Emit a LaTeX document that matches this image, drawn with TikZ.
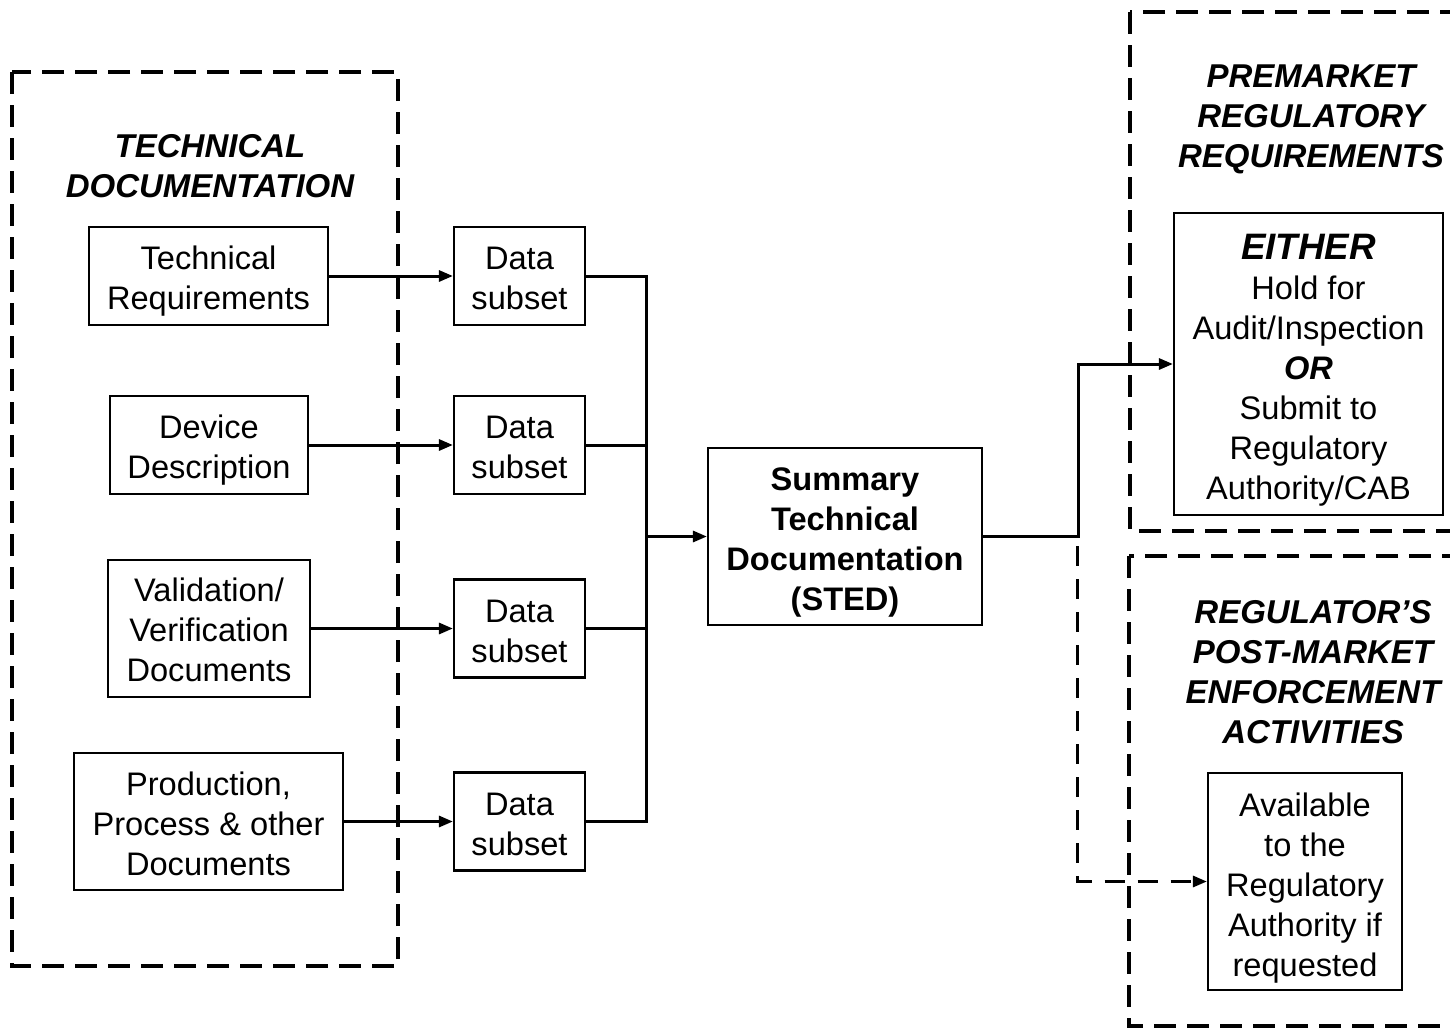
\documentclass[tikz,border=0pt]{standalone}
\usepackage{fontspec}
\setmainfont{Liberation Sans}
\usetikzlibrary{arrows.meta}
\newcommand\topst[1]{\rule{0pt}{#1pt}}
\tikzset{
  box/.style={draw, line width=1.1pt, align=center, inner sep=0pt,
    font=\fontsize{16.3}{20}\selectfont},
  ttl/.style={align=center, inner sep=0pt,
    font=\fontsize{16.5}{20}\selectfont\bfseries\itshape},
  group/.style={draw, line width=2pt, dash pattern=on 11pt off 5.5pt},
  conn/.style={line width=1.5pt},
  arr/.style={conn, -{Triangle[length=7pt,width=5.5pt]}},
  darr/.style={line width=1.5pt, dash pattern=on 10pt off 6.5pt, -{Triangle[length=7pt,width=5.5pt]}},
}
\begin{document}
\begin{tikzpicture}[x=0.5pt,y=-0.5pt]
\useasboundingbox (0,0) rectangle (1450,1028);
\clip (0,0) rectangle (1450,1028);
\fill[white] (0,0) rectangle (1450,1028);

% group frames
\draw[group] (12,72) rectangle (398,966);
\draw[group] (1130,12) rectangle (1470,531);
\draw[group] (1129,556) rectangle (1470,1026);

% titles
\node[ttl] (t1) at (210,166) {TECHNICAL\\DOCUMENTATION};
\node[ttl] (t2) at (1311,117) {\topst{13.7}PREMARKET\\REGULATORY\\REQUIREMENTS};
\node[ttl] (t3) at (1313,672) {REGULATOR’S\\POST-MARKET\\ENFORCEMENT\\ACTIVITIES};

% source documents
\node[box, minimum width=119.5pt, minimum height=49pt] (tr) at (208.5,276) {\topst{17}Technical\\Requirements};
\node[box, minimum width=99pt, minimum height=49pt] (dd) at (209,445) {\topst{16.7}Device\\Description};
\node[box, minimum width=101pt, minimum height=68.5pt] (vv) at (209,628.5) {\topst{13.4}Validation/\\Verification\\Documents};
\node[box, minimum width=134.5pt, minimum height=68.5pt] (pp) at (208.5,821.5) {\topst{13.9}Production,\\Process \& other\\Documents};

% data subsets
\node[box, minimum width=65.5pt, minimum height=49pt] (ds1) at (519.5,276) {\topst{13.7}Data\\subset};
\node[box, minimum width=65.5pt, minimum height=49pt] (ds2) at (519.5,445) {\topst{13.7}Data\\subset};
\node[box, minimum width=65.5pt, minimum height=49pt] (ds3) at (519.5,628.5) {\topst{13.7}Data\\subset};
\node[box, minimum width=65.5pt, minimum height=49pt] (ds4) at (519.5,821.5) {\topst{13.7}Data\\subset};

% STED
\node[box, font=\fontsize{16.3}{20}\selectfont\bfseries, minimum width=137pt, minimum height=88.5pt] (sted) at (845,536.5) {\topst{17}Summary\\Technical\\Documentation\\(STED)};

% right boxes
\node[box, minimum width=134.5pt, minimum height=151pt] (either) at (1308.5,364)
  {{\fontsize{18.4}{22}\selectfont\bfseries\itshape \topst{19.2}EITHER}\\Hold for\\Audit/Inspection\\{\bfseries\itshape OR}\\Submit to\\Regulatory\\Authority/CAB};
\node[box, minimum width=97pt, minimum height=108.5pt] (avail) at (1305,881.5)
  {\topst{17.9}Available\\to the\\Regulatory\\Authority if\\requested};

% connectors
\draw[arr] (tr.east) -- (ds1.west);
\draw[arr] (dd.east) -- (ds2.west);
\draw[arr] (vv.east) -- (ds3.west);
\draw[arr] (pp.east) -- (ds4.west);

\coordinate (bt) at (646,276);
\coordinate (bb) at (646,821.5);
\draw[conn] (ds1.east) -- (bt) -- (bb) -- (ds4.east);
\draw[conn] (ds2.east) -- (ds2.east -| bt);
\draw[conn] (ds3.east) -- (ds3.east -| bt);
\draw[arr] (bt |- sted.west) -- (sted.west);

\coordinate (jx) at (1078,536.5);
\draw[arr] (sted.east) -- (jx) |- (either.west);
\coordinate (dj) at (1077,546);
\draw[darr] (dj) |- (avail.west);
\end{tikzpicture}
\end{document}
